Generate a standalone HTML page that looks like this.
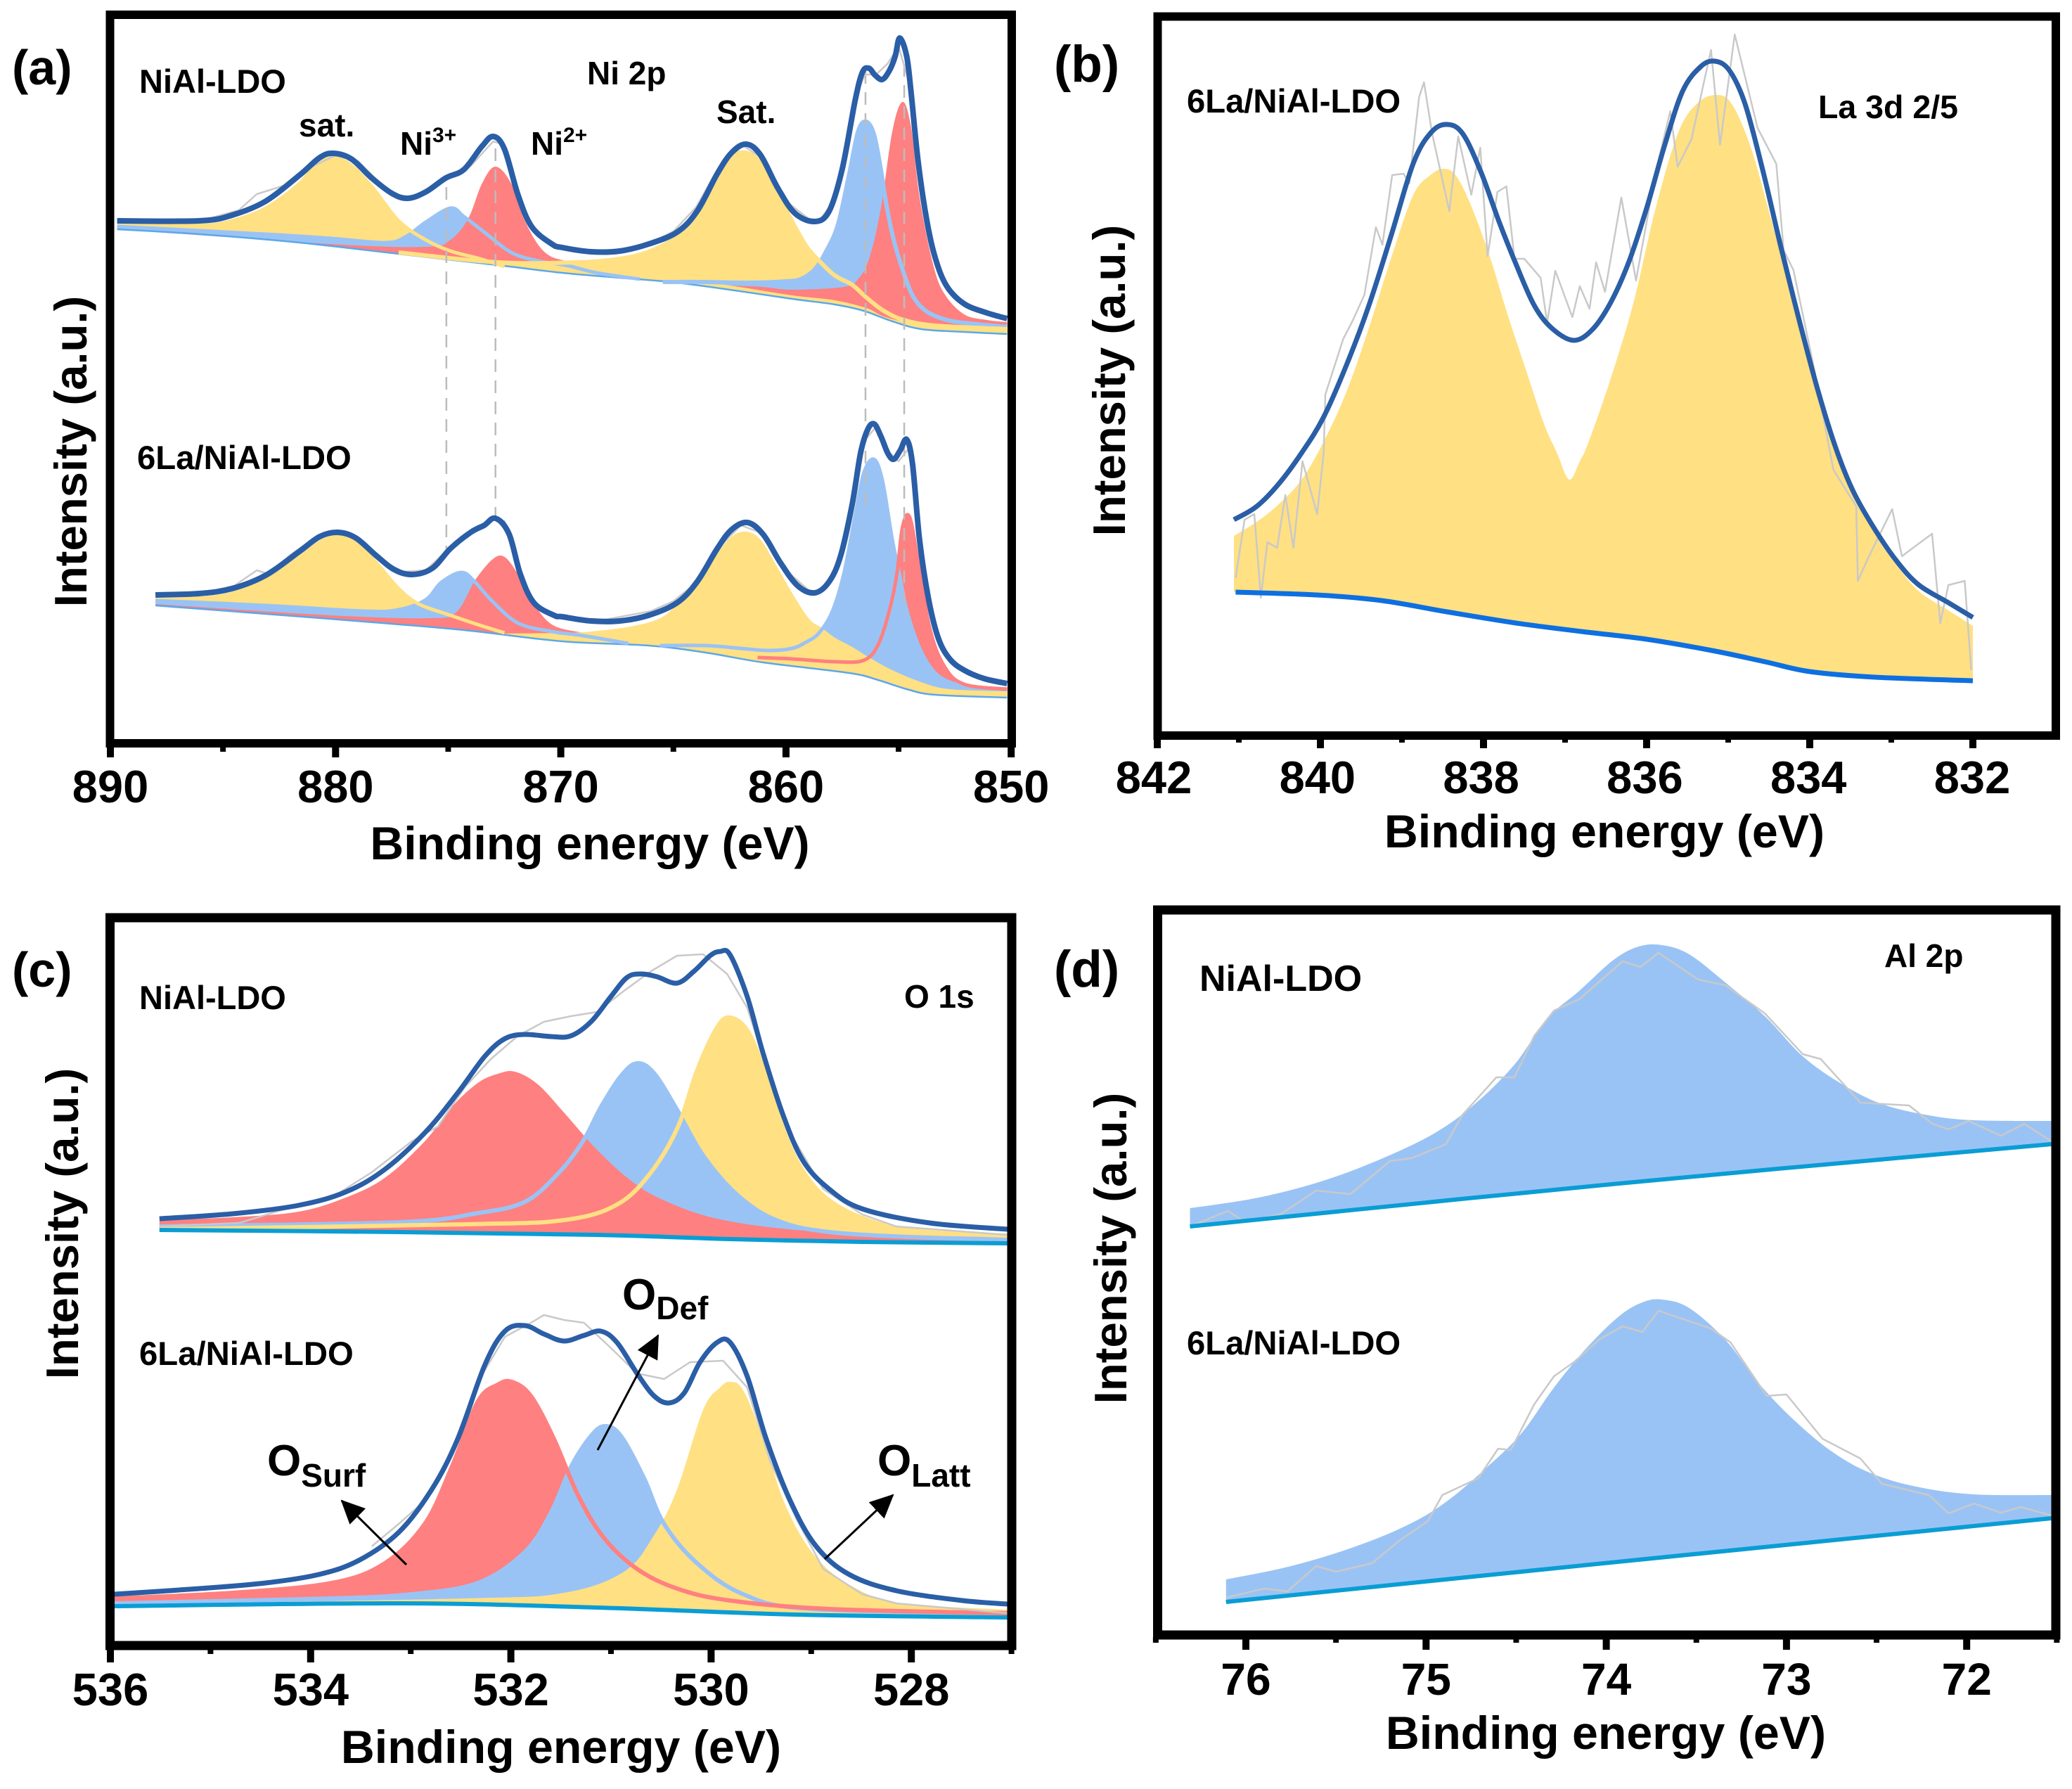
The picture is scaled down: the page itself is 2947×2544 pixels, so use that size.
<!DOCTYPE html>
<html lang="en">
<head>
<meta charset="utf-8">
<title>XPS spectra of NiAl-LDO and 6La/NiAl-LDO</title>
<style>
html,body{margin:0;padding:0;background:#fff;}
svg{display:block;}
text{font-family:"Liberation Sans",sans-serif;font-weight:700;fill:#000;}
</style>
</head>
<body>
<svg id="figure" xmlns="http://www.w3.org/2000/svg" width="2947" height="2544" viewBox="0 0 2947 2544">
<defs>
<marker id="arrow-head" markerUnits="userSpaceOnUse" markerWidth="36" markerHeight="32" refX="32" refY="16" orient="auto">
<path d="M0 0 L34 16 L0 32 Z" fill="#000"></path>
</marker>
</defs>
<rect width="2947" height="2544" fill="#fff"></rect>
<g id="panel-a"></g>
<g id="panel-b"></g>
<g id="panel-c"></g>
<g id="panel-d"></g>

<g>
<text x="17" y="120" font-size="70">(a)</text>
<text x="198" y="132" font-size="47">NiAl-LDO</text>
<text x="835" y="120" font-size="46">Ni 2p</text>
<text x="425" y="194" font-size="46">sat.</text>
<text x="569" y="220" font-size="46">Ni<tspan font-size="30" dy="-18">3+</tspan></text>
<text x="755" y="220" font-size="46">Ni<tspan font-size="30" dy="-18">2+</tspan></text>
<text x="1019" y="175" font-size="46">Sat.</text>
<text x="195" y="667" font-size="47.3">6La/NiAl-LDO</text>
</g>
<g>
<text x="1499" y="116" font-size="73">(b)</text>
<text x="1688" y="160" font-size="47.2">6La/NiAl-LDO</text>
<text x="2586" y="168" font-size="46.5">La 3d 2/5</text>
</g>
<g>
<text x="17" y="1403" font-size="70">(c)</text>
<text x="198" y="1435" font-size="47">NiAl-LDO</text>
<text x="1286" y="1433" font-size="46">O 1s</text>
<text x="198" y="1941" font-size="47.3">6La/NiAl-LDO</text>
<text x="885" y="1862" font-size="62">O<tspan font-size="46" dy="14">Def</tspan></text>
<text x="380" y="2098" font-size="62">O<tspan font-size="46" dy="16">Surf</tspan></text>
<text x="1248" y="2098" font-size="62">O<tspan font-size="46" dy="16">Latt</tspan></text>
<line x1="578" y1="2225" x2="486" y2="2134" stroke="#000" stroke-width="3" marker-end="url(#arrow-head)"></line>
<line x1="850" y1="2062" x2="936" y2="1899" stroke="#000" stroke-width="3" marker-end="url(#arrow-head)"></line>
<line x1="1173" y1="2217" x2="1270" y2="2126" stroke="#000" stroke-width="3" marker-end="url(#arrow-head)"></line>
</g>
<g>
<text x="1499" y="1403" font-size="73">(d)</text>
<text x="1706" y="1409" font-size="52">NiAl-LDO</text>
<text x="2680" y="1375" font-size="46">Al 2p</text>
<text x="1688" y="1926" font-size="47.2">6La/NiAl-LDO</text>
</g>
</svg>

<script>
/* ---------- Panel (a) Ni 2p: energies in eV, intensities in a.u. ---------- */
const aTicksMajor=[890,880,870,860,850];
const aTicksMinor=[885,875,865,855];
const aGuideE=[875.08,872.9,856.47,854.75];
const aGuideTop=[785,840,950,990];
const aGuideBottom=[270,312,330,178];

const aTopTotalE=[889.7,886.05,884.6,883.1,881.6,880.7,880.1,879.3,878.4,877.5,876.8,876,875.1,874.3,873.5,873,872.5,871.9,871.3,870.4,869.93,868.65,867.38,866.1,864.83,863.94,863.05,862.41,861.77,861.14,860.37,859.61,858.72,858.08,857.5,856.93,856.61,856.32,856.04,855.72,855.4,855.15,854.95,854.64,854.45,854.13,853.75,853.37,852.86,852.09,851.07,850.18];
const aTopTotalI=[737,737,745,765,802,827,833,825,798,776,769,778,798,810,843,857,839,774,729,704,699,693,694,704,721,751,804,834,846,831,784,748,736,751,811,908,948,954,944,938,951,971,997,971,921,821,738,684,644,619,606,598];
const aTopRawE=[889.7,886,884.3,883.5,883,882,881,880,879,878,877,876,875,874,873,872.5,872,871.5,871,870,868,866,865,864,863,862,861,860,859,858.5,858,857.5,857,856.5,856,855.5,855,854.5,854,853.5,853,852,851,850.2];
const aTopRawI=[735,737,752,775,780,790,815,830,822,790,768,775,800,815,850,845,790,735,720,700,692,706,722,756,812,846,825,765,740,738,760,815,905,945,945,960,985,930,790,705,650,618,605,598];
const aTopBgE=[889.7,886.05,881.6,877.2,872.8,869.93,867.38,864.83,862.28,859.73,857.83,856.55,855.27,854,852.09,850.18];
const aTopBgI=[725,718,706,690,674,663,656,649,638,626,618,609,594,583,579,576];
const aTopSatLeftE=[889.7,886.05,884.6,883.1,881.6,880.9,880.2,879.4,878.4,877.2,876,874.9,873.7,872.5];
const aTopSatLeftI=[737,731,737,755,790,818,827,818,786,737,710,694,684,672];
const aTopNi3LeftE=[889.7,883.1,880.2,877.8,876.9,876,874.9,874.3,873.4,872.2,871,869.8,868.4,866.5];
const aTopNi3LeftI=[729,718,712,706,714,735,755,743,721,692,680,674,663,654];
const aTopNi2LeftE=[889.7,880.2,876,874.9,874.1,873.5,872.9,872.2,871.6,870.7,869.5,867.8,866.6,865];
const aTopNi2LeftI=[725,704,700,710,741,790,814,790,737,692,678,667,659,650];
const aTopSatRightE=[877.2,872.8,869.29,867.38,866.1,864.83,863.94,863.05,862.41,861.84,861.26,860.63,859.86,859.1,858.46,857.82,857.06,856.43,855.66,854.77,853.37,850.18];
const aTopSatRightI=[692,678,678,683,693,714,741,794,828,834,824,791,744,701,678,659,646,628,609,596,588,583];
const aTopNi3RightE=[865.47,863.56,861.64,859.99,859.35,858.72,858.21,857.7,857.19,856.8,856.45,856.1,855.79,855.6,855.28,854.89,854.38,853.75,852.86,851.84,850.18];
const aTopNi3RightI=[650,650,649,651,654,668,694,731,804,864,878,861,811,771,718,674,631,608,596,591,586];
const aTopNi2RightE=[862.5,861.01,859.73,857.44,856.8,856.3,855.79,855.28,854.83,854.45,854.07,853.49,852.98,852.09,851.07,850.18];
const aTopNi2RightI=[645,643,639,643,654,684,754,864,906,871,771,678,634,604,596,593];
const aTopTailE=[864.83,862.28,859.73,857.83,856.43,855.66,854.64,853.37,850.18];
const aTopTailI=[655,644,631,624,613,601,593,589,588];

const aLowTotalE=[888,886.05,884.6,883.1,881.6,880.7,879.9,879.1,878.2,877.4,876.6,875.7,874.9,874,873.4,872.9,872.3,871.8,871.2,870.3,869.93,868.65,867.38,866.1,864.83,863.94,863.05,862.41,861.71,861.01,860.25,859.48,858.72,858.08,857.57,857.06,856.68,856.36,856.08,855.79,855.47,855.21,854.92,854.64,854.38,854.07,853.68,853.24,852.73,852.09,851.2,850.18];
const aLowTotalI=[205,207,214,233,267,288,294,286,261,241,234,243,271,294,304,314,292,235,194,176,174,168,168,176,194,224,271,298,308,291,251,218,208,224,261,334,408,441,448,431,406,398,411,426,391,284,201,144,114,98,86,79];
const aLowRawE=[888,886,884.5,883.5,883,882,881,880,879,878,877,876,875,874,873,872.5,872,871.5,871,870,868,866,865,864,863,862,861,860,859,858.5,858,857.5,857,856.5,856,855.5,855,854.5,854,853.5,853,852,851,850.2];
const aLowRawI=[207,207,218,240,235,262,285,293,285,255,238,240,270,297,312,310,260,205,190,172,170,182,196,222,272,304,292,240,212,208,226,270,345,425,444,410,395,415,265,170,125,96,84,76];
const aLowBgE=[888,883.1,878.7,874.3,869.93,866.1,863.56,861.01,857.19,855.91,854.64,853.37,850.18];
const aLowBgI=[190,178,167,155,139,133,123,109,94,84,71,63,59];
const aLowSatLeftE=[888,886.05,884.6,883.1,881.6,880.7,880,879.1,878.2,877.2,876.3,874.9,873.7,872.5];
const aLowSatLeftI=[204,201,207,227,259,280,288,280,251,214,192,176,163,151];
const aLowNi3LeftE=[888,883.1,878.7,877.2,876,875.3,874.4,873.8,873.1,871.9,870.4,869,867];
const aLowNi3LeftI=[197,190,182,184,198,223,237,223,198,165,153,147,136];
const aLowNi2LeftE=[888,880.2,875.7,874.6,873.7,872.7,871.9,871.3,870.4,869,867.8,866];
const aLowNi2LeftI=[192,176,172,182,231,261,235,198,163,151,143,133];
const aLowSatRightE=[873,869.93,868.65,866.74,865.47,864.58,863.81,863.05,862.41,861.77,861.14,860.5,859.73,858.97,858.4,857.82,857.06,856.3,855.28,854,852.73,850.18];
const aLowSatRightI=[150,151,153,161,174,201,228,264,288,295,284,251,208,171,158,144,131,116,98,81,71,68];
const aLowNi3RightE=[865.6,863.56,862.03,860.75,859.73,859.1,858.53,857.95,857.44,856.93,856.55,856.1,855.72,855.28,854.96,854.64,854.13,853.49,852.73,851.58,850.18];
const aLowNi3RightI=[133,133,129,126,129,138,151,181,234,318,378,398,368,284,234,184,134,98,81,74,71];
const aLowNi2RightE=[861.26,859.73,857.82,856.55,855.91,855.4,855.08,854.83,854.51,854.13,853.62,852.98,852.09,850.18];
const aLowNi2RightI=[116,114,110,112,134,184,234,301,316,251,158,104,78,71];

/* ---------- Panel (b) La 3d ---------- */
const bTicksMajor=[842,840,838,836,834,832];
const bTicksMinor=[841,839,837,835,833];
const bTotalE=[841.06,840.78,840.51,840.23,839.96,839.68,839.41,839.13,838.86,838.64,838.44,838.25,838.03,837.81,837.59,837.37,837.15,836.89,836.66,836.44,836.22,836,835.78,835.56,835.34,835.16,834.98,834.79,834.57,834.35,834.13,833.91,833.69,833.47,833.19,832.92,832.66,832.3,832];
const bTotalI=[301,320,352,396,447,521,604,706,808,852,863,849,795,725,661,604,572,556,572,610,667,744,833,910,945,953,939,891,795,687,585,489,406,342,285,240,208,183,162];
const bPeakE=[841.06,840.78,840.51,840.23,839.96,839.68,839.41,839.13,838.86,838.64,838.48,838.33,838.14,837.92,837.7,837.48,837.26,837.1,836.95,836.82,836.71,836.44,836.16,835.89,835.61,835.37,835.13,834.95,834.73,834.51,834.29,834.07,833.85,833.63,833.41,833.19,832.92,832.66,832.3,832];
const bPeakI=[278,298,323,358,412,483,572,674,763,792,800,789,744,674,591,514,438,396,358,384,412,502,610,744,852,894,905,891,833,744,648,546,463,393,329,278,234,199,172,150];
const bBgE=[841.04,840.05,839.25,838.45,837.6,836.8,836,835.2,834.55,834,833.2,832];
const bBgI=[198,194,186,170,154,142,131,115,99,85,77,72];
const bRawE=[841.04,840.93,840.81,840.73,840.65,840.53,840.43,840.33,840.22,840.04,839.96,839.94,839.72,839.6,839.46,839.32,839.24,839.12,838.98,838.91,838.79,838.73,838.63,838.42,838.31,838.15,838.04,837.95,837.83,837.72,837.62,837.5,837.3,837.22,837.12,836.91,836.82,836.7,836.62,836.51,836.31,836.13,835.89,835.71,835.62,835.45,835.33,835.21,835.1,834.92,834.64,834.41,834.32,834.2,833.95,833.71,833.43,833.41,833.29,832.99,832.87,832.71,832.5,832.4,832.3,832.1,832.02];
const bRawI=[218,301,309,190,269,261,336,261,384,309,395,479,558,585,621,717,692,791,793,779,902,923,850,740,846,763,830,676,767,775,672,672,645,581,655,589,633,601,667,625,759,641,795,882,803,842,906,969,834,991,858,807,684,656,518,372,320,214,245,316,249,263,281,154,208,214,87];

/* ---------- Panel (c) O 1s ---------- */
const cTicksMajor=[536,534,532,530,528];
const cTicksMinor=[535,533,531,529,527];
const cTopTotalE=[535.51,534.78,534.12,533.65,533.26,532.86,532.53,532.26,532.06,531.86,531.6,531.4,531.2,531,530.84,530.7,530.54,530.34,530.17,530.01,529.91,529.81,529.64,529.48,529.28,529.08,528.82,528.49,527.82,527.04];
const cTopTotalI=[599,606,618,637,669,721,778,830,855,861,858,859,879,915,942,947,943,934,951,973,979,974,915,834,746,681,641,613,593,584];
const cTopRawE=[535.51,534.71,534.25,533.79,533.39,532.99,532.73,532.46,532.2,531.93,531.67,531.4,531.14,530.87,530.6,530.34,530.08,529.84,529.64,529.48,529.21,528.88,528.49,528.15,527.04];
const cTopRawI=[588,593,613,629,665,709,730,786,826,859,879,887,893,923,951,973,975,947,899,830,721,641,605,588,576];
const cTopBgE=[535.51,533.12,531.14,529.81,528.49,527.04];
const cTopBgI=[583,580,576,570,566,564];
const cTopSurfE=[535.51,534.78,534.12,533.65,533.26,532.86,532.59,532.33,532.13,531.96,531.73,531.47,531.14,530.8,530.47,529.94,529.15,528.15,527.04];
const cTopSurfI=[597,601,609,629,657,709,758,792,805,808,790,750,697,653,625,599,583,576,571];
const cTopDefE=[535.51,533.12,532.33,531.86,531.53,531.28,531.1,530.9,530.74,530.57,530.34,530.08,529.74,529.35,528.82,527.82,527.04];
const cTopDefI=[588,594,607,623,663,709,758,802,820,806,754,689,633,597,580,572,570];
const cTopLattE=[535.51,532.46,531.47,530.94,530.6,530.33,530.14,529.94,529.81,529.64,529.48,529.31,529.11,528.82,528.35,527.82,527.04];
const cTopLattI=[584,591,597,619,665,730,810,871,885,867,814,738,673,625,593,580,575];

const cLowTotalE=[535.96,535.11,534.45,533.92,533.52,533.12,532.79,532.53,532.26,532.06,531.86,531.67,531.47,531.27,531.1,530.94,530.74,530.57,530.42,530.27,530.11,529.94,529.81,529.64,529.45,529.21,528.95,528.62,528.15,527.49,527.04];
const cLowTotalI=[65,73,81,93,113,153,214,286,391,439,447,435,425,433,439,423,379,347,337,351,395,423,423,375,286,198,133,93,70,56,51];
const cLowRawE=[533.39,533.12,532.86,532.59,532.33,532.06,531.8,531.67,531.47,531.27,531,530.74,530.47,530.21,529.88,529.64,529.41,529.15,528.88,528.49,528.15,527.04];
const cLowRawI=[133,165,198,270,367,431,451,462,455,451,415,379,371,395,397,359,254,173,101,65,52,38];
const cLowBgE=[535.96,533.12,531.14,529.15,527.04];
const cLowBgI=[48,52,46,36,32];
const cLowSurfE=[535.96,534.78,533.79,533.26,532.86,532.59,532.33,532.13,531.99,531.8,531.57,531.33,531.07,530.74,530.34,529.81,528.82,527.04];
const cLowSurfI=[59,67,81,109,165,246,339,363,367,347,286,206,145,101,73,56,44,38];
const cLowDefE=[535.96,533.79,532.99,532.33,531.86,531.6,531.4,531.2,531.06,530.9,530.67,530.47,530.14,529.68,529.01,527.04];
const cLowDefI=[52,59,65,81,125,181,246,290,304,290,230,165,109,65,44,38];
const cLowLattE=[535.96,532.46,531.47,530.87,530.57,530.34,530.08,529.91,529.81,529.68,529.48,529.25,528.95,528.55,528.08,527.04];
const cLowLattI=[50,59,67,97,149,214,327,359,367,355,286,189,117,73,52,43];

/* ---------- Panel (d) Al 2p ---------- */
const dTicksMajor=[76,75,74,73,72];
const dTicksMinor=[76.5,75.5,74.5,73.5,72.5,71.5];
const dTopPeakE=[76.31,75.93,75.57,75.24,74.95,74.73,74.51,74.33,74.15,73.96,73.82,73.69,73.54,73.34,73.12,72.91,72.69,72.47,72.21,71.96,71.53];
const dTopPeakI=[599,614,638,670,706,747,803,868,908,952,971,973,960,920,872,815,775,747,731,724,723];
const dTopBgE=[76.31,73.93,71.53];
const dTopBgI=[573,634,690];
const dTopRawE=[76.31,76.1,76.01,75.81,75.61,75.42,75.2,75.08,74.89,74.8,74.61,74.51,74.4,74.29,74.15,73.91,73.81,73.71,73.49,73.34,73.12,72.91,72.81,72.59,72.32,72.19,72.1,71.99,71.81,71.68,71.53];
const dTopRawI=[573,595,580,590,624,619,666,670,690,731,785,785,844,880,896,950,942,962,924,916,876,818,811,749,745,719,711,723,702,719,694];
const dLowPeakE=[76.11,75.75,75.39,75.09,74.88,74.66,74.47,74.29,74.11,73.93,73.8,73.69,73.54,73.34,73.16,72.98,72.76,72.54,72.28,71.96,71.53];
const dLowPeakI=[71,90,118,150,183,231,279,344,400,445,465,469,457,412,352,303,255,223,203,192,191];
const dLowBgE=[76.11,73.86,71.53];
const dLowBgI=[39,98,158];
const dLowRawE=[76.11,75.9,75.77,75.61,75.5,75.3,75.15,74.99,74.91,74.71,74.6,74.53,74.4,74.29,74.18,74.04,73.91,73.8,73.71,73.42,73.31,73.11,73,72.8,72.59,72.47,72.21,72.1,71.96,71.81,71.7,71.53];
const dLowRawI=[45,58,54,90,82,94,126,154,191,215,257,255,320,360,380,412,431,423,453,428,408,332,334,271,243,207,191,165,179,166,174,162];

/* ---------- Colours ---------- */
const YELLOW='#FFE083', BLUE='#9AC3F5', RED='#FF8080', NAVY='#2A5EA6', GREY='#c9c9c9', BG_C='#0A9DD4', BG_B='#0E6FE0', BG_A='#5aa8ea';
const NS='http://www.w3.org/2000/svg';

function makeAxis(xAtMax,pxPerEv,evMax,plotBottom){
  return {
    x:function(v){return xAtMax+(evMax-v)*pxPerEv;},
    y:function(i){return plotBottom-i;}
  };
}
const axisA=makeAxis(157,32.03,890,1051);
const axisB=makeAxis(1646,116,842,1040);
const axisBLabels=makeAxis(1641,116.4,842,1040);
const axisC=makeAxis(157,142.4,536,2332);
const axisD=makeAxis(1772,256.3,76,2317);

function points(ax,es,is){
  return es.map(function(e,k){return [ax.x(e),ax.y(is[k])];});
}
function smoothSeg(p){
  let d='';
  for(let k=0;k<p.length-1;k++){
    const a=p[Math.max(k-1,0)],b=p[k],c=p[k+1],e=p[Math.min(k+2,p.length-1)];
    const t=0.17;
    d+=' C'+(b[0]+(c[0]-a[0])*t).toFixed(1)+' '+(b[1]+(c[1]-a[1])*t).toFixed(1)+' '
      +(c[0]-(e[0]-b[0])*t).toFixed(1)+' '+(c[1]-(e[1]-b[1])*t).toFixed(1)+' '
      +c[0].toFixed(1)+' '+c[1].toFixed(1);
  }
  return d;
}
function smoothPath(ax,es,is){
  const p=points(ax,es,is);
  return 'M'+p[0][0].toFixed(1)+' '+p[0][1].toFixed(1)+smoothSeg(p);
}
function rawPath(ax,es,is){
  return points(ax,es,is).map(function(q,k){return (k?'L':'M')+q[0].toFixed(1)+' '+q[1].toFixed(1);}).join(' ');
}
function bgAt(e,bgE,bgI){
  if(e>=bgE[0])return bgI[0];
  for(let k=0;k<bgE.length-1;k++){
    if(e<=bgE[k]&&e>=bgE[k+1]){
      const f=(bgE[k]-e)/(bgE[k]-bgE[k+1]);
      return bgI[k]+(bgI[k+1]-bgI[k])*f;
    }
  }
  return bgI[bgI.length-1];
}
function areaPath(ax,es,is,bgE,bgI){
  let d=smoothPath(ax,es,is);
  const first=es[0],last=es[es.length-1];
  d+=' L'+ax.x(last).toFixed(1)+' '+ax.y(bgAt(last,bgE,bgI)).toFixed(1);
  for(let k=bgE.length-1;k>=0;k--){
    if(bgE[k]>last&&bgE[k]<first){
      d+=' L'+ax.x(bgE[k]).toFixed(1)+' '+ax.y(bgI[k]).toFixed(1);
    }
  }
  d+=' L'+ax.x(first).toFixed(1)+' '+ax.y(bgAt(first,bgE,bgI)).toFixed(1)+' Z';
  return d;
}
function addPath(parent,d,fill,stroke,width,name,dash){
  const el=document.createElementNS(NS,'path');
  el.setAttribute('d',d);
  el.setAttribute('fill',fill);
  el.setAttribute('stroke',stroke);
  el.setAttribute('stroke-width',width);
  el.setAttribute('stroke-linejoin','round');
  if(dash)el.setAttribute('stroke-dasharray',dash);
  
  
  parent.appendChild(el);
  return el;
}
function area(parent,ax,es,is,bgE,bgI,color,name){
  addPath(parent,areaPath(ax,es,is,bgE,bgI),color,'none',0,name+'-fill');
}
function line(parent,ax,es,is,color,width,name){
  addPath(parent,smoothPath(ax,es,is),'none',color,width,name+'-line');
}
function raw(parent,ax,es,is,name){
  addPath(parent,rawPath(ax,es,is),'none',GREY,2.5,name+'-raw-data');
}
function addText(parent,x,y,size,str,name,anchor,rotate){
  const el=document.createElementNS(NS,'text');
  el.setAttribute('x',x);
  el.setAttribute('y',y);
  el.setAttribute('font-size',size);
  el.setAttribute('text-anchor',anchor||'middle');
  if(rotate)el.setAttribute('transform','rotate(-90 '+x+' '+y+')');
  el.textContent=str;
  
  
  parent.appendChild(el);
}
function addRectFrame(parent,x1,y1,x2,y2,w,name){
  const el=document.createElementNS(NS,'rect');
  el.setAttribute('x',x1);
  el.setAttribute('y',y1);
  el.setAttribute('width',x2-x1);
  el.setAttribute('height',y2-y1);
  el.setAttribute('fill','none');
  el.setAttribute('stroke','#000');
  el.setAttribute('stroke-width',w);
  
  
  parent.appendChild(el);
}
function addTick(parent,x,y1,y2,w,name){
  const el=document.createElementNS(NS,'line');
  el.setAttribute('x1',x);
  el.setAttribute('x2',x);
  el.setAttribute('y1',y1);
  el.setAttribute('y2',y2);
  el.setAttribute('stroke','#000');
  el.setAttribute('stroke-width',w);
  
  
  parent.appendChild(el);
}
function axes(parent,ax,labelAx,major,minor,yFrame,majorEnd,minorEnd,labelY,labelSize,prefix){
  major.forEach(function(v){
    addTick(parent,ax.x(v),yFrame,majorEnd,10,prefix+'-major-tick');
    addText(parent,labelAx.x(v),labelY,labelSize,String(v),prefix+'-tick-label');
  });
  minor.forEach(function(v){
    addTick(parent,ax.x(v),yFrame,minorEnd,8,prefix+'-minor-tick');
  });
}

/* ---------- Draw panel (a) ---------- */
const pa=document.getElementById('panel-a');
area(pa,axisA,aTopSatLeftE,aTopSatLeftI,aTopBgE,aTopBgI,YELLOW,'a-top-sat-880');
area(pa,axisA,aTopNi3LeftE,aTopNi3LeftI,aTopBgE,aTopBgI,BLUE,'a-top-ni3-875');
area(pa,axisA,aTopNi2LeftE,aTopNi2LeftI,aTopBgE,aTopBgI,RED,'a-top-ni2-872');
area(pa,axisA,aTopSatRightE,aTopSatRightI,aTopBgE,aTopBgI,YELLOW,'a-top-sat-861');
area(pa,axisA,aTopNi3RightE,aTopNi3RightI,aTopBgE,aTopBgI,BLUE,'a-top-ni3-856');
area(pa,axisA,aTopNi2RightE,aTopNi2RightI,aTopBgE,aTopBgI,RED,'a-top-ni2-854');
area(pa,axisA,aTopTailE,aTopTailI,aTopBgE,aTopBgI,YELLOW,'a-top-tail');
line(pa,axisA,aTopBgE,aTopBgI,BG_A,2.5,'a-top-background');
line(pa,axisA,aTopNi3LeftE,aTopNi3LeftI,BLUE,5,'a-top-ni3-875');
line(pa,axisA,aTopNi3RightE,aTopNi3RightI,BLUE,6,'a-top-ni3-856');
line(pa,axisA,aTopSatLeftE,aTopSatLeftI,YELLOW,5,'a-top-sat-880');
line(pa,axisA,aTopSatRightE,aTopSatRightI,YELLOW,6,'a-top-sat-861');

area(pa,axisA,aLowSatLeftE,aLowSatLeftI,aLowBgE,aLowBgI,YELLOW,'a-low-sat-880');
area(pa,axisA,aLowNi3LeftE,aLowNi3LeftI,aLowBgE,aLowBgI,BLUE,'a-low-ni3-875');
area(pa,axisA,aLowNi2LeftE,aLowNi2LeftI,aLowBgE,aLowBgI,RED,'a-low-ni2-872');
area(pa,axisA,aLowNi2RightE,aLowNi2RightI,aLowBgE,aLowBgI,RED,'a-low-ni2-854');
area(pa,axisA,aLowNi3RightE,aLowNi3RightI,aLowBgE,aLowBgI,BLUE,'a-low-ni3-856');
area(pa,axisA,aLowSatRightE,aLowSatRightI,aLowBgE,aLowBgI,YELLOW,'a-low-sat-861');
line(pa,axisA,aLowBgE,aLowBgI,BG_A,2.5,'a-low-background');
line(pa,axisA,aLowNi3LeftE,aLowNi3LeftI,BLUE,5,'a-low-ni3-875');
line(pa,axisA,aLowNi3RightE,aLowNi3RightI,BLUE,5,'a-low-ni3-856');
line(pa,axisA,aLowNi2RightE,aLowNi2RightI,RED,5,'a-low-ni2-854');
line(pa,axisA,aLowSatLeftE,aLowSatLeftI,YELLOW,5,'a-low-sat-880');

aGuideE.forEach(function(e,k){
  addPath(pa,'M'+axisA.x(e)+' '+axisA.y(aGuideTop[k])+' L'+axisA.x(e)+' '+axisA.y(aGuideBottom[k]),'none','#bcbcbc',2.5,'peak-guide-line','18 12');
});
raw(pa,axisA,aTopRawE,aTopRawI,'a-top');
line(pa,axisA,aTopTotalE,aTopTotalI,NAVY,8,'a-top-total-fit');
raw(pa,axisA,aLowRawE,aLowRawI,'a-low');
line(pa,axisA,aLowTotalE,aLowTotalI,NAVY,8,'a-low-total-fit');

addRectFrame(pa,156.5,21,1439,1057,12,'a-plot-frame');
axes(pa,axisA,axisA,aTicksMajor,aTicksMinor,1060,1077,1069,1141,65,'a-x-axis');
addText(pa,123,642,65.3,'Intensity (a.u.)','a-y-axis-title','middle',true);
addText(pa,839,1222,66.2,'Binding energy (eV)','a-x-axis-title');

/* ---------- Draw panel (b) ---------- */
const pb=document.getElementById('panel-b');
area(pb,axisB,bPeakE,bPeakI,bBgE,bBgI,YELLOW,'b-la3d-peaks');
raw(pb,axisB,bRawE,bRawI,'b');
line(pb,axisB,bBgE,bBgI,BG_B,7,'b-background');
line(pb,axisB,bTotalE,bTotalI,NAVY,7,'b-total-fit');
addRectFrame(pb,1646.5,23.5,2924,1046,12,'b-plot-frame');
axes(pb,axisB,axisBLabels,bTicksMajor,bTicksMinor,1048,1064,1056,1128,65,'b-x-axis');
addText(pb,1600,541,65.3,'Intensity (a.u.)','b-y-axis-title','middle',true);
addText(pb,2282,1205,66.3,'Binding energy (eV)','b-x-axis-title');

/* ---------- Draw panel (c) ---------- */
const pc=document.getElementById('panel-c');
area(pc,axisC,cTopLattE,cTopLattI,cTopBgE,cTopBgI,YELLOW,'c-top-o-latt');
area(pc,axisC,cTopDefE,cTopDefI,cTopBgE,cTopBgI,BLUE,'c-top-o-def');
area(pc,axisC,cTopSurfE,cTopSurfI,cTopBgE,cTopBgI,RED,'c-top-o-surf');
line(pc,axisC,cTopDefE,cTopDefI,BLUE,6,'c-top-o-def');
line(pc,axisC,cTopLattE,cTopLattI,YELLOW,6,'c-top-o-latt');
line(pc,axisC,cTopBgE,cTopBgI,BG_C,6,'c-top-background');
raw(pc,axisC,cTopRawE,cTopRawI,'c-top');
line(pc,axisC,cTopTotalE,cTopTotalI,NAVY,7,'c-top-total-fit');

area(pc,axisC,cLowSurfE,cLowSurfI,cLowBgE,cLowBgI,RED,'c-low-o-surf');
area(pc,axisC,cLowDefE,cLowDefI,cLowBgE,cLowBgI,BLUE,'c-low-o-def');
area(pc,axisC,cLowLattE,cLowLattI,cLowBgE,cLowBgI,YELLOW,'c-low-o-latt');
line(pc,axisC,cLowDefE,cLowDefI,BLUE,6,'c-low-o-def');
line(pc,axisC,cLowSurfE,cLowSurfI,RED,6,'c-low-o-surf');
line(pc,axisC,cLowBgE,cLowBgI,BG_C,6,'c-low-background');
raw(pc,axisC,cLowRawE,cLowRawI,'c-low');
line(pc,axisC,cLowTotalE,cLowTotalI,NAVY,7,'c-low-total-fit');

addRectFrame(pc,156.5,1305,1439,2340,13,'c-plot-frame');
axes(pc,axisC,axisC,cTicksMajor,cTicksMinor,2344,2364,2352,2425,65,'c-x-axis');
addText(pc,111,1740,65.3,'Intensity (a.u.)','c-y-axis-title','middle',true);
addText(pc,798,2507,66.3,'Binding energy (eV)','c-x-axis-title');

/* ---------- Draw panel (d) ---------- */
const pd=document.getElementById('panel-d');
area(pd,axisD,dTopPeakE,dTopPeakI,dTopBgE,dTopBgI,BLUE,'d-top-al2p-peak');
raw(pd,axisD,dTopRawE,dTopRawI,'d-top');
line(pd,axisD,dTopBgE,dTopBgI,BG_C,6,'d-top-background');
area(pd,axisD,dLowPeakE,dLowPeakI,dLowBgE,dLowBgI,BLUE,'d-low-al2p-peak');
raw(pd,axisD,dLowRawE,dLowRawI,'d-low');
line(pd,axisD,dLowBgE,dLowBgI,BG_C,6,'d-low-background');
addRectFrame(pd,1646.5,1294,2924,2325,13,'d-plot-frame');
axes(pd,axisD,axisD,dTicksMajor,dTicksMinor,2328,2346,2336,2410,64,'d-x-axis');
addText(pd,1602,1775,65.3,'Intensity (a.u.)','d-y-axis-title','middle',true);
addText(pd,2284,2487,66.3,'Binding energy (eV)','d-x-axis-title');
</script>
</body>
</html>
